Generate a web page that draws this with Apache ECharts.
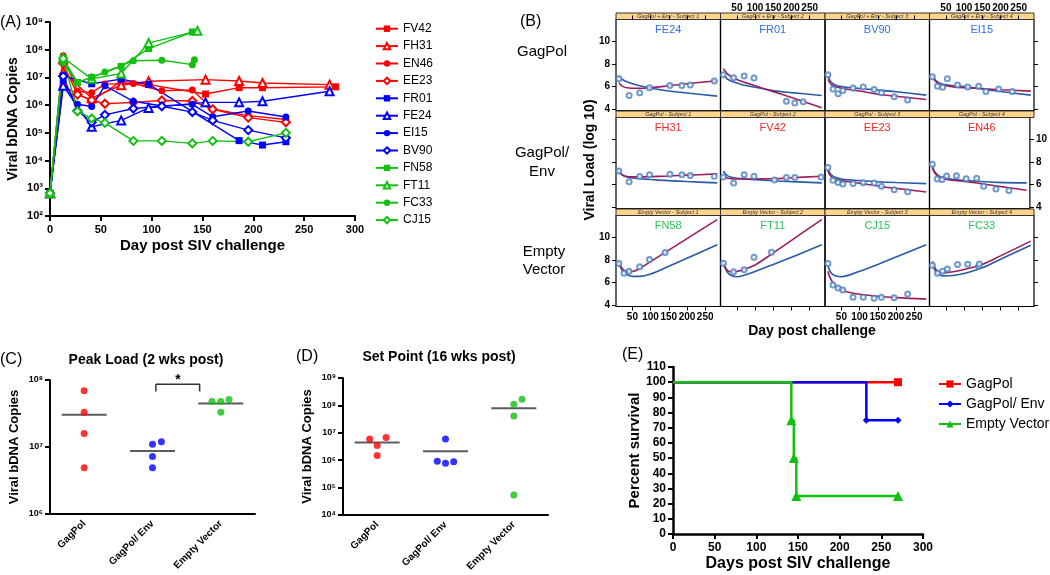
<!DOCTYPE html>
<html>
<head>
<meta charset="utf-8">
<script src="https://cdn.jsdelivr.net/npm/echarts@6.0.0/dist/echarts.min.js"></script>
<style>
html, body { margin: 0; padding: 0; background: #fff; }
#main { width: 1050px; height: 575px; }
</style>
</head>
<body>
<div id="main"></div>
<script>
// ---- (A) viral bDNA by day, values are log10 copies ----
var fv42Days = [0, 13, 41, 70, 97, 153, 186, 209, 281];
var fv42Log  = [2.82, 6.68, 6.15, 6.86, 6.74, 6.40, 6.63, 6.63, 6.66];
var fh31Days = [0, 13, 41, 70, 97, 153, 186, 209, 275];
var fh31Log  = [2.82, 7.20, 6.25, 6.72, 6.86, 6.92, 6.87, 6.80, 6.74];
var en46Days = [0, 13, 27, 41, 54, 82, 110, 140, 160, 195, 232];
var en46Log  = [2.82, 7.78, 6.50, 6.45, 6.76, 6.78, 6.52, 6.55, 5.86, 5.62, 5.48];
var ee23Days = [0, 13, 27, 41, 54, 82, 110, 140, 160, 195, 232];
var ee23Log  = [2.82, 7.50, 6.38, 6.18, 6.05, 6.10, 6.17, 6.15, 5.85, 5.55, 5.38];
var fr01Days = [0, 13, 41, 70, 97, 186, 209, 232];
var fr01Log  = [2.82, 7.05, 6.77, 6.94, 6.75, 4.72, 4.56, 4.68];
var fe24Days = [0, 13, 41, 70, 97, 153, 186, 209, 275];
var fe24Log  = [2.82, 6.70, 5.22, 5.45, 5.90, 6.10, 6.10, 6.14, 6.50];
var ei15Days = [0, 13, 27, 41, 54, 82, 110, 140, 160, 195, 232];
var ei15Log  = [2.82, 6.86, 6.03, 5.95, 6.70, 6.14, 5.97, 6.03, 5.58, 5.79, 5.57];
var bv90Days = [0, 13, 27, 41, 54, 82, 110, 140, 160, 195, 232];
var bv90Log  = [2.82, 7.04, 5.80, 5.38, 5.65, 5.88, 5.96, 5.75, 5.45, 5.10, 4.82];
var fn58Days = [0, 13, 27, 41, 70, 97, 140];
var fn58Log  = [2.82, 7.68, 6.82, 7.00, 7.40, 8.04, 8.64];
var ft11Days = [0, 13, 41, 70, 97, 145];
var ft11Log  = [2.82, 7.71, 6.95, 7.14, 8.24, 8.68];
var fc33Days = [0, 13, 27, 41, 54, 82, 110, 140, 142];
var fc33Log  = [2.82, 7.52, 6.82, 7.00, 7.20, 7.60, 7.62, 7.46, 7.64];
var cj15Days = [0, 13, 27, 41, 54, 82, 110, 140, 160, 195, 232];
var cj15Log  = [2.82, 7.68, 5.78, 5.52, 5.36, 4.71, 4.71, 4.62, 4.71, 4.68, 5.00];

// ---- (B) model fits, log10 viral load at fitDays ----
var fitDays    = [13, 18, 25, 35, 50, 70, 100, 150, 200, 283];
var fe24Blue   = [6.96, 6.75, 6.58, 6.42, 6.25, 6.08, 5.88, 5.62, 5.44, 5.16];
var fe24Maroon = [6.35, 6.15, 6.00, 5.90, 5.86, 5.85, 5.90, 6.07, 6.25, 6.52];
var fr01Blue   = [7.05, 6.85, 6.65, 6.48, 6.32, 6.12, 5.95, 5.65, 5.47, 5.22];
var fr01Maroon = [7.58, 7.35, 7.10, 6.88, 6.62, 6.38, 6.08, 5.56, 5.04, 4.15];
var bv90Blue   = [6.95, 6.60, 6.30, 6.12, 6.00, 5.92, 5.84, 5.70, 5.55, 5.25];
var bv90Maroon = [6.65, 6.35, 6.12, 5.98, 5.85, 5.74, 5.62, 5.33, 5.15, 4.87];
var ei15Blue   = [6.98, 6.70, 6.45, 6.28, 6.15, 6.08, 6.00, 5.80, 5.57, 5.25];
var ei15Maroon = [6.86, 6.60, 6.38, 6.20, 6.07, 5.98, 5.90, 5.82, 5.73, 5.60];
var fh31Blue   = [7.28, 7.00, 6.80, 6.68, 6.58, 6.52, 6.45, 6.35, 6.27, 6.15];
var fh31Maroon = [7.20, 6.95, 6.80, 6.72, 6.68, 6.68, 6.70, 6.76, 6.83, 6.94];
var fv42Blue   = [7.20, 6.95, 6.77, 6.65, 6.56, 6.50, 6.44, 6.34, 6.26, 6.15];
var fv42Maroon = [6.76, 6.65, 6.56, 6.51, 6.49, 6.49, 6.50, 6.52, 6.60, 6.74];
var ee23Blue   = [7.42, 7.05, 6.80, 6.63, 6.50, 6.42, 6.35, 6.25, 6.18, 6.09];
var ee23Maroon = [7.22, 6.85, 6.60, 6.46, 6.35, 6.25, 6.12, 5.88, 5.67, 5.35];
var en46Blue   = [7.65, 7.25, 6.95, 6.72, 6.57, 6.46, 6.37, 6.27, 6.20, 6.15];
var en46Maroon = [7.50, 7.12, 6.85, 6.62, 6.47, 6.38, 6.30, 6.10, 5.87, 5.50];
var fn58Blue   = [7.74, 7.30, 6.96, 6.72, 6.55, 6.55, 6.75, 7.43, 8.14, 9.33];
var fn58Maroon = [7.83, 7.45, 7.15, 7.00, 6.98, 7.24, 7.85, 8.85, 9.87, 11.54];
var ft11Blue   = [7.65, 7.25, 6.88, 6.62, 6.52, 6.65, 6.98, 7.60, 8.22, 9.33];
var ft11Maroon = [7.75, 7.35, 7.05, 6.95, 6.98, 7.18, 7.55, 8.62, 9.72, 11.54];
var cj15Blue   = [7.50, 7.05, 6.75, 6.58, 6.52, 6.65, 7.00, 7.60, 8.25, 9.33];
var cj15Maroon = [7.00, 6.50, 6.08, 5.70, 5.38, 5.15, 4.98, 4.80, 4.68, 4.55];
var fc33Blue   = [7.65, 7.20, 6.85, 6.65, 6.58, 6.62, 6.80, 7.30, 8.06, 9.28];
var fc33Maroon = [7.85, 7.40, 7.08, 6.93, 6.88, 6.95, 7.15, 7.60, 8.35, 9.65];
var bTickDays  = [50, 100, 150, 200, 250];
var bTickLoads = [4, 6, 8, 10];

// ---- (C) peak load and (D) set point, log10 copies ----
var groups         = ['GagPol', 'GagPol/ Env', 'Empty Vector'];
var peakGagPol     = [7.84, 7.52, 7.20, 6.69];
var peakGagPolEnv  = [7.04, 7.08, 6.86, 6.69];
var peakEmpty      = [7.68, 7.68, 7.71, 7.52];
var peakCenter     = [7.48, 6.94, 7.65];
var setGagPol      = [6.77, 6.83, 6.54, 6.17];
var setGagPolEnv   = [6.77, 5.96, 5.89, 5.94];
var setEmpty       = [8.04, 8.22, 7.61, 4.73];
var setCenter      = [6.65, 6.33, 7.90];

// ---- (E) survival ----
var survGagPolDays = [0, 270];
var survGagPol     = [100, 100];
var survEnvDays    = [0, 232, 270];
var survEnv        = [100, 75, 75];
var survEmptyDays  = [0, 142, 145, 148, 270];
var survEmpty      = [100, 75, 50, 25, 25];

// ---- styling ----
var RED = '#ff0000', BLUE = '#0000ff', GREEN = '#12c012';
var FONT = 'Arial, "Liberation Sans", Helvetica, sans-serif';
var SUP = ['\u2070', '\u00b9', '\u00b2', '\u00b3', '\u2074', '\u2075', '\u2076', '\u2077', '\u2078', '\u2079'];
function pow10(v) { return '10' + SUP[Math.round(v)]; }
function pairs(xs, ys) { return xs.map(function (x, i) { return [x, ys[i]]; }); }

var animalsA = [
    { name: 'FV42', days: fv42Days, log: fv42Log, color: RED,   symbol: 'rect' },
    { name: 'FH31', days: fh31Days, log: fh31Log, color: RED,   symbol: 'emptyTriangle' },
    { name: 'EN46', days: en46Days, log: en46Log, color: RED,   symbol: 'circle' },
    { name: 'EE23', days: ee23Days, log: ee23Log, color: RED,   symbol: 'emptyDiamond' },
    { name: 'FR01', days: fr01Days, log: fr01Log, color: BLUE,  symbol: 'rect' },
    { name: 'FE24', days: fe24Days, log: fe24Log, color: BLUE,  symbol: 'emptyTriangle' },
    { name: 'EI15', days: ei15Days, log: ei15Log, color: BLUE,  symbol: 'circle' },
    { name: 'BV90', days: bv90Days, log: bv90Log, color: BLUE,  symbol: 'emptyDiamond' },
    { name: 'FN58', days: fn58Days, log: fn58Log, color: GREEN, symbol: 'rect' },
    { name: 'FT11', days: ft11Days, log: ft11Log, color: GREEN, symbol: 'emptyTriangle' },
    { name: 'FC33', days: fc33Days, log: fc33Log, color: GREEN, symbol: 'circle' },
    { name: 'CJ15', days: cj15Days, log: cj15Log, color: GREEN, symbol: 'emptyDiamond' }
];
function animal(name) { return animalsA.filter(function (a) { return a.name === name; })[0]; }

var panelsB = [
    [['FE24', fe24Blue, fe24Maroon], ['FR01', fr01Blue, fr01Maroon], ['BV90', bv90Blue, bv90Maroon], ['EI15', ei15Blue, ei15Maroon]],
    [['FH31', fh31Blue, fh31Maroon], ['FV42', fv42Blue, fv42Maroon], ['EE23', ee23Blue, ee23Maroon], ['EN46', en46Blue, en46Maroon]],
    [['FN58', fn58Blue, fn58Maroon], ['FT11', ft11Blue, ft11Maroon], ['CJ15', cj15Blue, cj15Maroon], ['FC33', fc33Blue, fc33Maroon]]
];
var stripNames = ['GagPol + Env - Subject ', 'GagPol - Subject ', 'Empty Vector - Subject '];
var nameColors = ['#2f6fee', '#ee2a2a', '#2ec25a'];

var grid = [], xAxis = [], yAxis = [], series = [], graphic = [];
function addGrid(g) { grid.push(g); return grid.length - 1; }
function addX(a) { xAxis.push(a); return xAxis.length - 1; }
function addY(a) { yAxis.push(a); return yAxis.length - 1; }

function axisBase(extra) {
    var a = {
        axisLine: { onZero: false, lineStyle: { color: '#000', width: 2 } },
        axisTick: { length: 5, lineStyle: { color: '#000', width: 2 } },
        axisLabel: { color: '#000', fontWeight: 'bold', fontSize: 11, fontFamily: FONT },
        splitLine: { show: false },
        nameLocation: 'middle',
        nameTextStyle: { color: '#000', fontWeight: 'bold', fontSize: 14, fontFamily: FONT }
    };
    for (var k in extra) a[k] = extra[k];
    return a;
}
function text(x, y, str, font, color, align, rot) {
    graphic.push({
        type: 'text', x: x, y: y, rotation: rot || 0, silent: true,
        style: { text: str, font: font, fill: color || '#000', textAlign: align || 'left', textVerticalAlign: 'middle' }
    });
}

// ---------- panel A ----------
var gA = addGrid({ left: 50, top: 22, width: 305, height: 194 });
var xA = addX(axisBase({ gridIndex: gA, type: 'value', min: 0, max: 300, interval: 50,
    name: 'Day post SIV challenge', nameGap: 22 }));
xAxis[xA].nameTextStyle.fontSize = 15;
var yA = addY(axisBase({ gridIndex: gA, type: 'value', min: 2, max: 9, interval: 1,
    name: 'Viral bDNA Copies', nameGap: 30 }));
yAxis[yA].axisLabel.formatter = pow10;
yAxis[yA].axisLabel.margin = 7;
animalsA.forEach(function (a) {
    series.push({
        name: a.name, type: 'line', xAxisIndex: xA, yAxisIndex: yA,
        data: pairs(a.days, a.log),
        symbol: a.symbol, symbolSize: a.symbol.indexOf('empty') === 0 ? 8 : 7,
        itemStyle: { color: a.color, borderWidth: 1.5 },
        lineStyle: { color: a.color, width: 1.4 }
    });
});
text(0, 23, '(A)', '16px ' + FONT);

// ---------- panel B ----------
var colLeft = [616, 720.5, 825, 929.5], rowTop = [19.5, 117.5, 215.5], panelW = 104.5, panelH = 91;
var tickFont = { color: '#000', fontWeight: 'bold', fontSize: 10, fontFamily: FONT };
panelsB.forEach(function (row, r) {
    row.forEach(function (p, c) {
        var g = addGrid({ left: colLeft[c], top: rowTop[r], width: panelW, height: panelH,
            show: true, borderColor: '#000', borderWidth: 1.2, backgroundColor: 'transparent' });
        var xb = addX({ gridIndex: g, type: 'value', min: 5, max: 292, position: 'bottom',
            axisLine: { show: false, onZero: false },
            axisTick: { show: r === 2, customValues: bTickDays, length: 4, lineStyle: { color: '#000' } },
            axisLabel: { show: r === 2 && c % 2 === 0, customValues: bTickDays, margin: 6, textStyle: tickFont },
            splitLine: { show: false } });
        if (r === 0) {
            addX({ gridIndex: g, type: 'value', min: 5, max: 292, position: 'top',
                axisLine: { show: false, onZero: false },
                axisTick: { show: true, customValues: bTickDays, length: 4, lineStyle: { color: '#000' } },
                axisLabel: { show: c % 2 === 1, customValues: bTickDays, margin: 6, textStyle: tickFont },
                splitLine: { show: false } });
        }
        var yb = addY({ gridIndex: g, type: 'value', min: 3.9, max: 11.9, position: 'left',
            axisLine: { show: false, onZero: false },
            axisTick: { show: c === 0, customValues: bTickLoads, length: 4, lineStyle: { color: '#000' } },
            axisLabel: { show: c === 0 && r !== 1, customValues: bTickLoads, margin: 6, textStyle: tickFont },
            splitLine: { show: false } });
        if (c === 3) {
            addY({ gridIndex: g, type: 'value', min: 3.9, max: 11.9, position: 'right',
                axisLine: { show: false, onZero: false },
                axisTick: { show: true, customValues: bTickLoads, length: 4, lineStyle: { color: '#000' } },
                axisLabel: { show: r === 1, customValues: bTickLoads, margin: 6, textStyle: tickFont },
                splitLine: { show: false } });
        }
        var a = animal(p[0]);
        series.push({ name: p[0] + ' blue fit', type: 'line', xAxisIndex: xb, yAxisIndex: yb,
            data: pairs(fitDays, p[1]), smooth: 0.35, symbol: 'none',
            lineStyle: { color: '#2a5ba8', width: 1.6 } });
        series.push({ name: p[0] + ' maroon fit', type: 'line', xAxisIndex: xb, yAxisIndex: yb,
            data: pairs(fitDays, p[2]), smooth: 0.35, symbol: 'none',
            lineStyle: { color: '#9e1e5c', width: 1.6 } });
        series.push({ name: p[0] + ' observed', type: 'scatter', xAxisIndex: xb, yAxisIndex: yb,
            data: pairs(a.days.slice(1), a.log.slice(1)), symbol: 'emptyCircle', symbolSize: 5,
            itemStyle: { color: '#4c7fc0', borderWidth: 1 }, z: 4 });
        // strip and animal name
        graphic.push({ type: 'rect', silent: true,
            shape: { x: colLeft[c], y: rowTop[r] - 6.5, width: panelW, height: 6.5 },
            style: { fill: '#ffd48c', stroke: '#333', lineWidth: 1 } });
        text(colLeft[c] + panelW / 2, rowTop[r] - 3.2, stripNames[r] + (c + 1), 'italic 5.5px ' + FONT, '#333', 'center');
        text(colLeft[c] + panelW / 2, rowTop[r] + 10.5, p[0], '11px ' + FONT, nameColors[r], 'center');
    });
});
text(520, 22, '(B)', '16px ' + FONT);
text(542, 52, 'GagPol', '15px ' + FONT, '#000', 'center');
text(542, 153, 'GagPol/', '15px ' + FONT, '#000', 'center');
text(542, 172, 'Env', '15px ' + FONT, '#000', 'center');
text(544, 252, 'Empty', '15px ' + FONT, '#000', 'center');
text(544, 270, 'Vector', '15px ' + FONT, '#000', 'center');
text(590, 160, 'Viral Load (log 10)', 'bold 14px ' + FONT, '#000', 'center', Math.PI / 2);
text(812, 331, 'Day post challenge', 'bold 14px ' + FONT, '#000', 'center');

// ---------- panels C and D ----------
function dotPanel(box, yMin, yMax, values, jitter, centers, title, titleXY) {
    var g = addGrid(box);
    var xc = addX(axisBase({ gridIndex: g, type: 'category', data: groups }));
    xAxis[xc].axisTick.alignWithLabel = true;
    xAxis[xc].axisLabel.rotate = 45;
    xAxis[xc].axisLabel.interval = 0;
    xAxis[xc].axisLabel.fontSize = 10;
    var xv = addX({ gridIndex: g, type: 'value', min: -0.5, max: 2.5, show: false });
    var yc = addY(axisBase({ gridIndex: g, type: 'value', min: yMin, max: yMax, interval: 1,
        name: 'Viral bDNA Copies', nameGap: 29 }));
    yAxis[yc].axisLabel.formatter = pow10;
    yAxis[yc].axisLabel.fontSize = 9;
    yAxis[yc].axisLabel.margin = 7;
    yAxis[yc].nameTextStyle.fontSize = 13;
    var cols = [RED, BLUE, GREEN];
    values.forEach(function (vals, i) {
        series.push({ name: title + ' ' + groups[i], type: 'scatter', xAxisIndex: xv, yAxisIndex: yc,
            data: vals.map(function (v, k) { return [i + jitter[i][k], v]; }),
            symbol: 'circle', symbolSize: 7, itemStyle: { color: cols[i] } });
    });
    series.push({ name: title + ' center', type: 'scatter', xAxisIndex: xv, yAxisIndex: yc,
        data: centers.map(function (v, i) { return [i, v]; }),
        symbol: 'rect', symbolSize: [45, 2], itemStyle: { color: '#333' }, z: 1 });
    text(titleXY[0], titleXY[1], title, 'bold 14px ' + FONT, '#000', 'center');
    return { x: xv, y: yc };
}
var cAx = dotPanel({ left: 50, top: 380, width: 205, height: 134 }, 6, 8,
    [peakGagPol, peakGagPolEnv, peakEmpty],
    [[0, 0, 0, 0], [0, 0.13, 0, 0], [-0.13, 0, 0.12, 0]],
    peakCenter, 'Peak Load (2 wks post)', [146, 360]);
// significance bracket between GagPol/ Env and Empty Vector
series.push({ name: 'bracket', type: 'line', xAxisIndex: cAx.x, yAxisIndex: cAx.y,
    data: [[1.05, 7.83], [1.05, 7.935], [1.69, 7.935], [1.69, 7.83]],
    symbol: 'none', lineStyle: { color: '#333', width: 1.5 } });
text(178, 380, '*', 'bold 14px ' + FONT, '#000', 'center');
text(0, 360, '(C)', '16px ' + FONT);

dotPanel({ left: 343, top: 378, width: 205, height: 137 }, 4, 9,
    [setGagPol, setGagPolEnv, setEmpty],
    [[-0.11, 0.13, 0, 0], [0, -0.12, 0, 0.12], [0, 0.12, 0, 0]],
    setCenter, 'Set Point (16 wks post)', [439, 357]);
text(296, 357, '(D)', '16px ' + FONT);

// ---------- panel E ----------
var gE = addGrid({ left: 673, top: 367, width: 250, height: 167 });
var xE = addX(axisBase({ gridIndex: gE, type: 'value', min: 0, max: 300, interval: 50,
    name: 'Days post SIV challenge', nameGap: 22 }));
xAxis[xE].nameTextStyle.fontSize = 16;
xAxis[xE].axisLabel.fontSize = 12;
xAxis[xE].axisLine.lineStyle.width = 2.5;
var yE = addY(axisBase({ gridIndex: gE, type: 'value', min: 0, max: 110, interval: 10,
    name: 'Percent survival', nameGap: 31 }));
yAxis[yE].axisLabel.fontSize = 12;
yAxis[yE].axisLabel.margin = 7;
yAxis[yE].axisLine.lineStyle.width = 2.5;
yAxis[yE].nameTextStyle.fontSize = 15;
function survData(days, surv) {
    return days.map(function (d, i) {
        return i === 0 ? { value: [d, surv[i]], symbol: 'none' } : [d, surv[i]];
    });
}
[['GagPol', survGagPolDays, survGagPol, RED, 'rect', 8],
 ['GagPol/ Env', survEnvDays, survEnv, BLUE, 'diamond', 7],
 ['Empty Vector', survEmptyDays, survEmpty, GREEN, 'triangle', 10]].forEach(function (s) {
    series.push({ name: s[0], type: 'line', step: 'end', xAxisIndex: xE, yAxisIndex: yE,
        data: survData(s[1], s[2]), symbol: s[4], symbolSize: s[5],
        itemStyle: { color: s[3] }, lineStyle: { color: s[3], width: 2.5 } });
});
text(622, 355, '(E)', '16px ' + FONT);

var chart = echarts.init(document.getElementById('main'));
chart.setOption({
    animation: false,
    backgroundColor: '#fff',
    textStyle: { fontFamily: FONT },
    grid: grid,
    xAxis: xAxis,
    yAxis: yAxis,
    legend: [{
        data: animalsA.map(function (a) { return a.name; }),
        orient: 'vertical', left: 370, top: 15, itemWidth: 22, itemHeight: 8, itemGap: 0,
        textStyle: { fontSize: 12, lineHeight: 17.4, color: '#000', fontFamily: FONT },
        selectedMode: false
    }, {
        data: ['GagPol', 'GagPol/ Env', 'Empty Vector'],
        orient: 'vertical', left: 933, top: 369, itemWidth: 22, itemHeight: 9, itemGap: 0,
        textStyle: { fontSize: 14, lineHeight: 20, color: '#000', fontFamily: FONT },
        selectedMode: false
    }],
    series: series,
    graphic: graphic
});
</script>
</body>
</html>
